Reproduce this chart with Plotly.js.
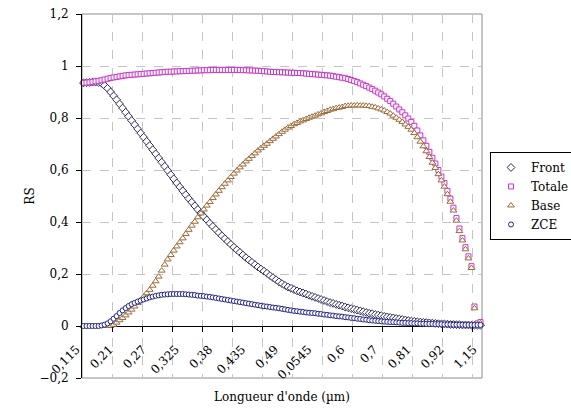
<!DOCTYPE html>
<html>
<head>
<meta charset="utf-8">
<script src="https://cdn.plot.ly/plotly-3.0.1.min.js"></script>
<style>html,body{margin:0;padding:0;background:#fff;}#chart{width:571px;height:414px;}</style>
</head>
<body>
<div id="chart"></div>
<script>
// Category tick labels (one label every 11 categories, as on the original Excel axis)
const tickLabels = ['0,115','0,21','0,27','0,325','0,38','0,435','0,49','0,0545','0,6','0,7','0,81','0,92','1,15'];

const front = [0.935,0.936,0.937,0.938,0.938,0.937,0.934,0.925,0.914,0.900,
0.885,0.870,0.854,0.838,0.822,0.806,0.790,0.774,0.758,0.742,
0.726,0.710,0.694,0.678,0.662,0.646,0.630,0.614,0.598,0.582,
0.566,0.550,0.535,0.520,0.505,0.490,0.476,0.462,0.448,0.434,
0.421,0.408,0.395,0.383,0.371,0.359,0.347,0.336,0.325,0.314,
0.303,0.293,0.283,0.273,0.263,0.254,0.245,0.236,0.227,0.219,
0.211,0.203,0.194,0.186,0.178,0.170,0.163,0.156,0.150,0.145,
0.140,0.135,0.131,0.127,0.123,0.118,0.114,0.110,0.106,0.102,
0.098,0.094,0.090,0.087,0.083,0.080,0.077,0.073,0.070,0.067,
0.064,0.061,0.058,0.055,0.052,0.049,0.047,0.044,0.042,0.040,
0.037,0.035,0.033,0.031,0.029,0.027,0.025,0.023,0.021,0.019,
0.018,0.016,0.015,0.014,0.013,0.012,0.011,0.010,0.009,0.008,
0.008,0.007,0.006,0.006,0.005,0.005,0.004,0.004,0.004,0.003,
0.003,0.003,0.003];

const totale = [0.935,0.936,0.937,0.939,0.941,0.943,0.945,0.948,0.951,0.954,
0.956,0.958,0.960,0.962,0.964,0.965,0.966,0.967,0.968,0.969,
0.970,0.971,0.972,0.973,0.974,0.975,0.976,0.977,0.978,0.978,
0.979,0.979,0.980,0.980,0.981,0.981,0.982,0.982,0.983,0.983,
0.984,0.984,0.984,0.985,0.985,0.985,0.985,0.985,0.985,0.985,
0.985,0.985,0.985,0.984,0.984,0.983,0.983,0.982,0.982,0.981,
0.980,0.979,0.978,0.977,0.977,0.976,0.976,0.975,0.975,0.974,
0.974,0.973,0.973,0.972,0.971,0.970,0.969,0.968,0.967,0.966,
0.965,0.964,0.963,0.961,0.959,0.957,0.955,0.953,0.950,0.946,
0.942,0.938,0.933,0.928,0.923,0.917,0.911,0.905,0.898,0.891,
0.883,0.874,0.865,0.855,0.844,0.833,0.822,0.810,0.798,0.785,
0.770,0.752,0.733,0.714,0.693,0.670,0.647,0.625,0.600,0.575,
0.550,0.520,0.490,0.455,0.415,0.375,0.338,0.303,0.268,0.230,
0.075,0.010,0.015];

const base = [0,0,0,0,0,0,0,0,0,0,
0.005,0.013,0.022,0.031,0.041,0.052,0.063,0.075,0.088,0.100,
0.113,0.126,0.139,0.155,0.172,0.190,0.213,0.236,0.256,0.273,
0.290,0.306,0.322,0.337,0.354,0.370,0.386,0.401,0.418,0.433,
0.448,0.463,0.477,0.492,0.506,0.520,0.534,0.547,0.560,0.573,
0.586,0.598,0.610,0.621,0.633,0.643,0.654,0.664,0.675,0.684,
0.693,0.701,0.711,0.720,0.729,0.738,0.747,0.755,0.763,0.769,
0.776,0.781,0.787,0.791,0.796,0.801,0.805,0.809,0.814,0.818,
0.823,0.827,0.832,0.834,0.838,0.840,0.842,0.846,0.847,0.848,
0.848,0.849,0.848,0.848,0.847,0.846,0.843,0.841,0.837,0.833,
0.829,0.823,0.817,0.809,0.801,0.793,0.785,0.775,0.766,0.755,
0.742,0.726,0.709,0.691,0.672,0.650,0.628,0.608,0.584,0.560,
0.536,0.507,0.478,0.444,0.405,0.365,0.329,0.295,0.260,0.223,
0.068,0.005,0.010];

const zce = [0,0,0,0,0,0,0.002,0.005,0.010,0.018,
0.028,0.038,0.050,0.060,0.069,0.077,0.084,0.089,0.094,0.098,
0.102,0.106,0.110,0.113,0.116,0.118,0.120,0.121,0.122,0.123,
0.123,0.123,0.123,0.123,0.122,0.121,0.120,0.119,0.117,0.116,
0.115,0.113,0.112,0.110,0.108,0.106,0.104,0.102,0.100,0.098,
0.096,0.094,0.092,0.090,0.088,0.086,0.084,0.082,0.080,0.078,
0.076,0.075,0.073,0.071,0.070,0.068,0.066,0.064,0.062,0.060,
0.058,0.057,0.055,0.054,0.052,0.051,0.050,0.049,0.047,0.046,
0.044,0.043,0.041,0.040,0.038,0.037,0.036,0.034,0.033,0.031,
0.030,0.028,0.027,0.025,0.024,0.022,0.021,0.020,0.019,0.018,
0.017,0.016,0.015,0.015,0.014,0.013,0.012,0.012,0.011,0.011,
0.010,0.010,0.009,0.009,0.008,0.008,0.008,0.007,0.007,0.007,
0.006,0.006,0.006,0.005,0.005,0.005,0.005,0.004,0.004,0.004,
0.004,0.004,0.004];

const nCat = front.length;
const xs = front.map((_, i) => i);
const labelStep = 11;
const labelVals = tickLabels.map((_, k) => k * labelStep);
const gridVals = [];
for (let v = 9.5; v < nCat; v += 10) gridVals.push(v);

const FONT = 'DejaVu Serif';

function series(name, y, symbol, color, size) {
  return {
    type: 'scatter', mode: 'markers', name: name, x: xs, y: y,
    marker: {symbol: symbol, size: size, color: '#ffffff', line: {color: color, width: 1}},
    cliponaxis: false
  };
}

const traces = [
  series('Front', front, 'diamond', '#2a2a5a', 6),
  series('Totale', totale, 'square', '#cc33cc', 5),
  series('Base', base, 'triangle-up', '#9c6a36', 6),
  series('ZCE', zce, 'circle', '#22228f', 5),
  {type: 'scatter', mode: 'markers', x: [null], y: [null], xaxis: 'x2', yaxis: 'y',
   showlegend: false, hoverinfo: 'skip'}
];

const layout = {
  width: 571, height: 414,
  margin: {l: 82, r: 89, t: 14, b: 36, pad: 0, autoexpand: false},
  paper_bgcolor: '#ffffff', plot_bgcolor: '#ffffff',
  separators: ', ',
  font: {family: FONT, size: 12, color: '#000000'},
  showlegend: true,
  xaxis: {
    range: [-0.5, nCat - 0.5], fixedrange: true, automargin: false,
    tickmode: 'array', tickvals: gridVals, showticklabels: false, ticks: '',
    showgrid: true, gridcolor: '#c4c4c4', griddash: 'dash', gridwidth: 1,
    showline: false, zeroline: false,
    title: {text: "Longueur d'onde (µm)", font: {family: FONT, size: 12}, standoff: 14}
  },
  xaxis2: {
    overlaying: 'x', anchor: 'free', position: 1 / 7, side: 'bottom',
    range: [-0.5, nCat - 0.5], fixedrange: true, automargin: false,
    tickmode: 'array', tickvals: labelVals, ticktext: tickLabels,
    tickangle: -45, ticks: '', ticklabelstandoff: 13, ticklabelshift: -7,
    tickfont: {family: FONT, size: 12},
    showgrid: false, showline: false, zeroline: false,
    minor: {tickmode: 'array', tickvals: gridVals, ticks: 'outside', ticklen: 5,
            tickcolor: '#000000', tickwidth: 1, showgrid: false}
  },
  yaxis: {
    range: [-0.2, 1.2], fixedrange: true, automargin: false,
    tickmode: 'linear', tick0: 0, dtick: 0.2,
    ticks: 'outside', ticklen: 5, tickcolor: '#000000', ticklabelstandoff: 5,
    showgrid: true, gridcolor: '#c4c4c4', griddash: 'dash', gridwidth: 1,
    showline: true, linecolor: '#000000', linewidth: 1,
    zeroline: true, zerolinecolor: '#000000', zerolinewidth: 1,
    tickfont: {family: FONT, size: 12},
    title: {text: 'RS', font: {family: FONT, size: 12}, standoff: 2}
  },
  shapes: [{type: 'rect', xref: 'paper', yref: 'paper', x0: 0, x1: 1, y0: 0, y1: 1,
            line: {color: '#8c8c8c', width: 1}, layer: 'below'}],
  legend: {
    x: 1.02, y: 0.621, xanchor: 'left', yanchor: 'top',
    bgcolor: '#ffffff', bordercolor: '#000000', borderwidth: 1,
    font: {family: FONT, size: 12}, tracegroupgap: 0, itemwidth: 30
  }
};

Plotly.newPlot('chart', traces, layout, {staticPlot: true, displayModeBar: false});
</script>
</body>
</html>
